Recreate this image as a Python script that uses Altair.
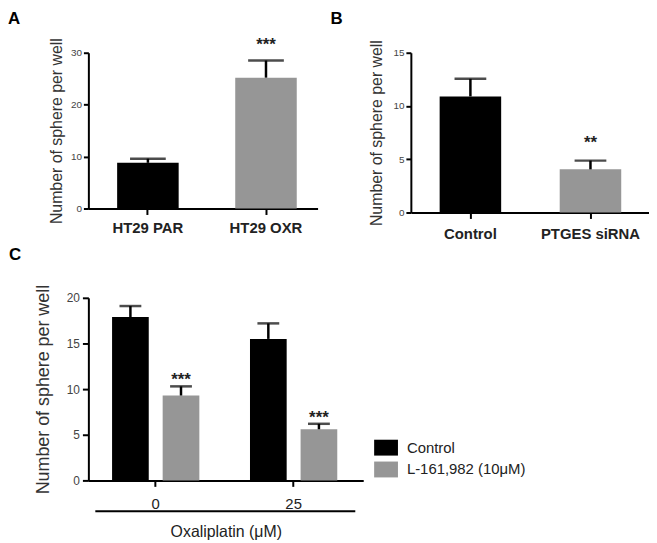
import altair as alt
import pandas as pd

FONT = "Liberation Sans"

# ---- Panel A data ----
a_cats = ["HT29 PAR", "HT29 OXR"]
a_vals = [8.8, 25.2]
a_err = [9.6, 28.5]
a_sig = ["", "***"]
a_colors = ["#000000", "#969696"]

# ---- Panel B data ----
b_cats = ["Control", "PTGES siRNA"]
b_vals = [10.9, 4.05]
b_err = [12.55, 4.87]
b_sig = ["", "**"]
b_colors = ["#000000", "#969696"]

# ---- Panel C data ----
c_doses = ["0", "0", "25", "25"]
c_treat = ["Control", "L-161,982 (10μM)", "Control", "L-161,982 (10μM)"]
c_vals = [17.9, 9.3, 15.5, 5.6]
c_err = [19.1, 10.3, 17.2, 6.2]
c_sig = ["", "***", "", "***"]
c_series = ["Control", "L-161,982 (10μM)"]
c_colors = ["#000000", "#969696"]

Y_TITLE = "Number of sphere per well"


def letter(ch, x, y):
    return alt.Chart(pd.DataFrame({"t": [ch]})).mark_text(
        font=FONT, fontSize=17, fontWeight="bold", align="left",
        baseline="alphabetic", color="#000000"
    ).encode(text="t:N", x=alt.value(x), y=alt.value(y))


def simple_panel(cats, vals, errs, sigs, colors, ch, ymax, yvals, w, h,
                 pin, pout, align, cap, sig_dy, title_pad, lab_pad):
    df = pd.DataFrame({"cat": cats, "val": vals, "err": errs, "sig": sigs})
    xs = alt.X("cat:N", sort=cats, title=None,
               scale=alt.Scale(paddingInner=pin, paddingOuter=pout, align=align),
               axis=alt.Axis(labelAngle=0, labelFont=FONT, labelFontSize=15,
                             labelFontWeight="bold", labelColor="#222222",
                             labelPadding=lab_pad, tickSize=6, tickWidth=2,
                             tickColor="#000000", domainColor="#000000",
                             domainWidth=2))
    ys = alt.Y("val:Q", title=Y_TITLE,
               scale=alt.Scale(domain=[0, ymax], nice=False),
               axis=alt.Axis(values=yvals, grid=False, labelFont=FONT,
                             labelFontSize=10, labelColor="#444444",
                             labelPadding=2, tickSize=5, tickWidth=2,
                             tickColor="#000000", domainColor="#000000",
                             domainWidth=2, titleFont=FONT, titleFontSize=16,
                             titleFontWeight="normal", titleColor="#333333",
                             titlePadding=title_pad))
    base = alt.Chart(df)
    bars = base.mark_bar().encode(
        x=xs, y=ys,
        color=alt.Color("cat:N", scale=alt.Scale(domain=cats, range=colors),
                        legend=None))
    rule = base.mark_rule(color="#000000", strokeWidth=2.5).encode(
        x=alt.X("cat:N", sort=cats), y="val:Q", y2="err:Q")
    tick = base.mark_tick(color="#000000", thickness=2.5, size=cap).encode(
        x=alt.X("cat:N", sort=cats), y="err:Q")
    txt = base.mark_text(font=FONT, fontSize=17, fontWeight="bold",
                         baseline="alphabetic", dy=sig_dy,
                         color="#222222").encode(
        x=alt.X("cat:N", sort=cats), y="err:Q", text="sig:N")
    return alt.layer(bars, rule, tick, txt, letter(ch, -81, -29)).properties(
        width=w, height=h)


panel_a = simple_panel(a_cats, a_vals, a_err, a_sig, a_colors, "A", 30,
                       [0, 10, 20, 30], 231, 157, 0.479, 0.210, 0.58, 36,
                       -11, 6, 6)
panel_b = simple_panel(b_cats, b_vals, b_err, b_sig, b_colors, "B", 15,
                       [0, 5, 10, 15], 240, 161, 0.4876, 0.2355, 0.509, 32,
                       -13, 8, 8)

# ---- Panel C ----
dfc = pd.DataFrame({"dose": c_doses, "treat": c_treat, "val": c_vals,
                    "err": c_err, "sig": c_sig})
xc = alt.X("dose:N", sort=["0", "25"], title="Oxaliplatin (μM)",
           scale=alt.Scale(paddingInner=0.2806, paddingOuter=0.1367, align=0.47),
           axis=alt.Axis(labelAngle=0, labelFont=FONT, labelFontSize=15,
                         labelColor="#222222", labelPadding=10, tickSize=6,
                         tickWidth=2, tickColor="#000000",
                         domainColor="#000000", domainWidth=2,
                         titleFont=FONT, titleFontSize=16,
                         titleFontWeight="normal", titleColor="#222222",
                         titlePadding=13))
xo = alt.XOffset("treat:N", sort=c_series,
                 scale=alt.Scale(paddingInner=0.275, paddingOuter=0.118))
yc = alt.Y("val:Q", title=Y_TITLE, scale=alt.Scale(domain=[0, 20], nice=False),
           axis=alt.Axis(values=[0, 5, 10, 15, 20], grid=False, labelFont=FONT,
                         labelFontSize=12, labelColor="#444444", labelPadding=3,
                         tickSize=6, tickWidth=2, tickColor="#000000",
                         domainColor="#000000", domainWidth=2, titleFont=FONT,
                         titleFontSize=18, titleFontWeight="normal",
                         titleColor="#333333", titlePadding=14))
basec = alt.Chart(dfc)
bars_c = basec.mark_bar().encode(
    x=xc, xOffset=xo, y=yc,
    color=alt.Color("treat:N", sort=c_series,
                    scale=alt.Scale(domain=c_series, range=c_colors),
                    legend=alt.Legend(title=None, orient="none", legendX=292,
                                      legendY=143, symbolType="M-1.5,-1H1.5V1H-1.5Z",
                                      symbolSize=256, symbolStrokeWidth=0,
                                      labelFont=FONT, labelFontSize=15,
                                      labelColor="#222222", labelOffset=13,
                                      rowPadding=6, padding=0)))
rule_c = basec.mark_rule(color="#000000", strokeWidth=2.5).encode(
    x=alt.X("dose:N", sort=["0", "25"]), xOffset=xo, y="val:Q", y2="err:Q")
tick_c = basec.mark_tick(color="#000000", thickness=2.5, size=22).encode(
    x=alt.X("dose:N", sort=["0", "25"]), xOffset=xo, y="err:Q")
txt_c = basec.mark_text(font=FONT, fontSize=17, fontWeight="bold",
                        baseline="alphabetic", dy=-1, color="#222222").encode(
    x=alt.X("dose:N", sort=["0", "25"]), xOffset=xo, y="err:Q", text="sig:N")
underline = alt.Chart(pd.DataFrame({"k": [0]})).mark_rule(
    color="#000000", strokeWidth=2).encode(
    x=alt.value(7), x2=alt.value(269), y=alt.value(215))
panel_c = alt.layer(bars_c, rule_c, tick_c, txt_c, underline,
                    letter("C", -80, -38)).properties(width=277, height=184)

top = alt.hconcat(panel_a, panel_b, spacing=13).resolve_scale(
    color="independent").resolve_legend(color="independent")
chart = alt.vconcat(top, panel_c, spacing=5).resolve_scale(
    color="independent").resolve_legend(color="independent").configure_view(
    stroke=None).properties(padding=0)

chart.save("out.html", embed_options={"renderer": "svg", "actions": False})
